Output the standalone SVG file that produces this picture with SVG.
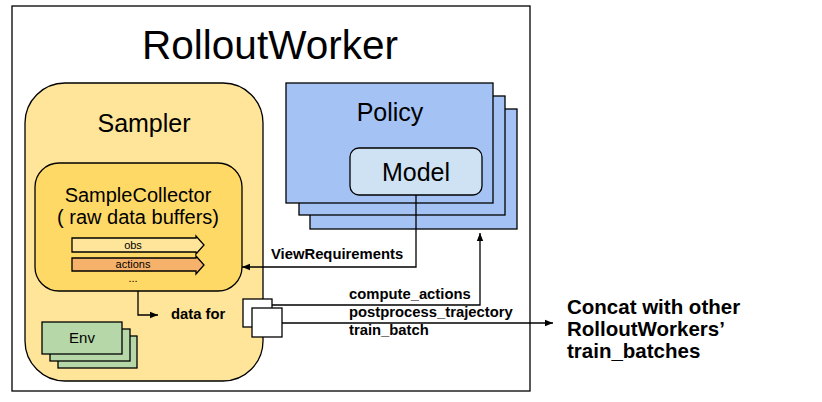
<svg xmlns="http://www.w3.org/2000/svg" width="822" height="402" viewBox="0 0 822 402">
<defs>
<style>
text{font-family:"Liberation Sans",Arial,sans-serif;fill:#000}
.b{font-weight:bold}
.st{stroke:#000;stroke-width:1.3}
.ln{fill:none;stroke:#000;stroke-width:1.3}
</style>
<marker id="ah" viewBox="0 0 10 10" refX="10" refY="5" markerWidth="8" markerHeight="8" markerUnits="userSpaceOnUse" orient="auto">
<path d="M0,1 L10,5 L0,9 Z" fill="#000"/>
</marker>
</defs>
<rect width="822" height="402" fill="#fff"/>
<g id="rolloutworker">
<rect x="12" y="6" width="518" height="385" fill="#fff" class="st"/>
<text x="270" y="59" font-size="40.5" text-anchor="middle">RolloutWorker</text>
</g>
<g id="sampler">
<rect x="25" y="83" width="238" height="298" rx="40" ry="40" fill="#ffe599" class="st"/>
<text x="144" y="132" font-size="25" text-anchor="middle">Sampler</text>
</g>
<g id="samplecollector">
<rect x="35" y="163" width="207" height="128" rx="24" ry="24" fill="#ffd966" class="st"/>
<text x="138" y="202" font-size="20" text-anchor="middle">SampleCollector</text>
<text x="138" y="224" font-size="20" text-anchor="middle">( raw data buffers)</text>
</g>
<g id="obs">
<polygon points="72,238 196,238 196,236 204,245 196,254 196,252 72,252" fill="#ffe599" class="st"/>
<text x="133" y="249" font-size="11" text-anchor="middle">obs</text>
</g>
<g id="actions">
<polygon points="72,258 196,258 196,256 204,265 196,274 196,271 72,271" fill="#f6b26b" class="st"/>
<text x="133" y="268" font-size="11" text-anchor="middle">actions</text>
<text x="133" y="282" font-size="11" text-anchor="middle">...</text>
</g>
<g id="env">
<rect x="58" y="336" width="79" height="32" fill="#b6d7a8" class="st"/>
<rect x="50" y="329" width="80" height="32" fill="#b6d7a8" class="st"/>
<rect x="42" y="322" width="80" height="32" fill="#b6d7a8" class="st"/>
<text x="82" y="343" font-size="15" text-anchor="middle">Env</text>
</g>
<g id="policy">
<rect x="310" y="109" width="207" height="120" fill="#a4c2f4" class="st"/>
<rect x="299" y="96" width="206" height="119" fill="#a4c2f4" class="st"/>
<rect x="286" y="83" width="207" height="120" fill="#a4c2f4" class="st"/>
<text x="390" y="121" font-size="25" text-anchor="middle">Policy</text>
</g>
<g id="model">
<rect x="350" y="148" width="132" height="47" rx="9" ry="9" fill="#cfe2f3" class="st"/>
<text x="416" y="181" font-size="25" text-anchor="middle">Model</text>
</g>
<g id="batches">
<rect x="243" y="299" width="29" height="28" fill="#fff" class="st"/>
<rect x="252" y="308" width="30" height="29" fill="#fff" class="st"/>
</g>
<g id="connectors">
<polyline points="416,195 416,267 242,267" class="ln" marker-end="url(#ah)"/>
<polyline points="272,305 480,305 480,233" class="ln" marker-end="url(#ah)"/>
<polyline points="282,323 553,323" class="ln" marker-end="url(#ah)"/>
<polyline points="138,291 138,315 158,315" class="ln" marker-end="url(#ah)"/>
</g>
<g id="labels">
<text x="271" y="259" font-size="14.8" class="b">ViewRequirements</text>
<text x="171" y="319" font-size="14.8" class="b">data for</text>
<text x="349" y="299" font-size="14.8" class="b">compute_actions</text>
<text x="349" y="317" font-size="14.8" class="b">postprocess_trajectory</text>
<text x="349" y="335" font-size="14.8" class="b">train_batch</text>
<text x="567" y="314" font-size="20.5" class="b">Concat with other</text>
<text x="567" y="336" font-size="20.5" class="b">RolloutWorkers’</text>
<text x="567" y="358" font-size="20.5" class="b">train_batches</text>
</g>
</svg>
